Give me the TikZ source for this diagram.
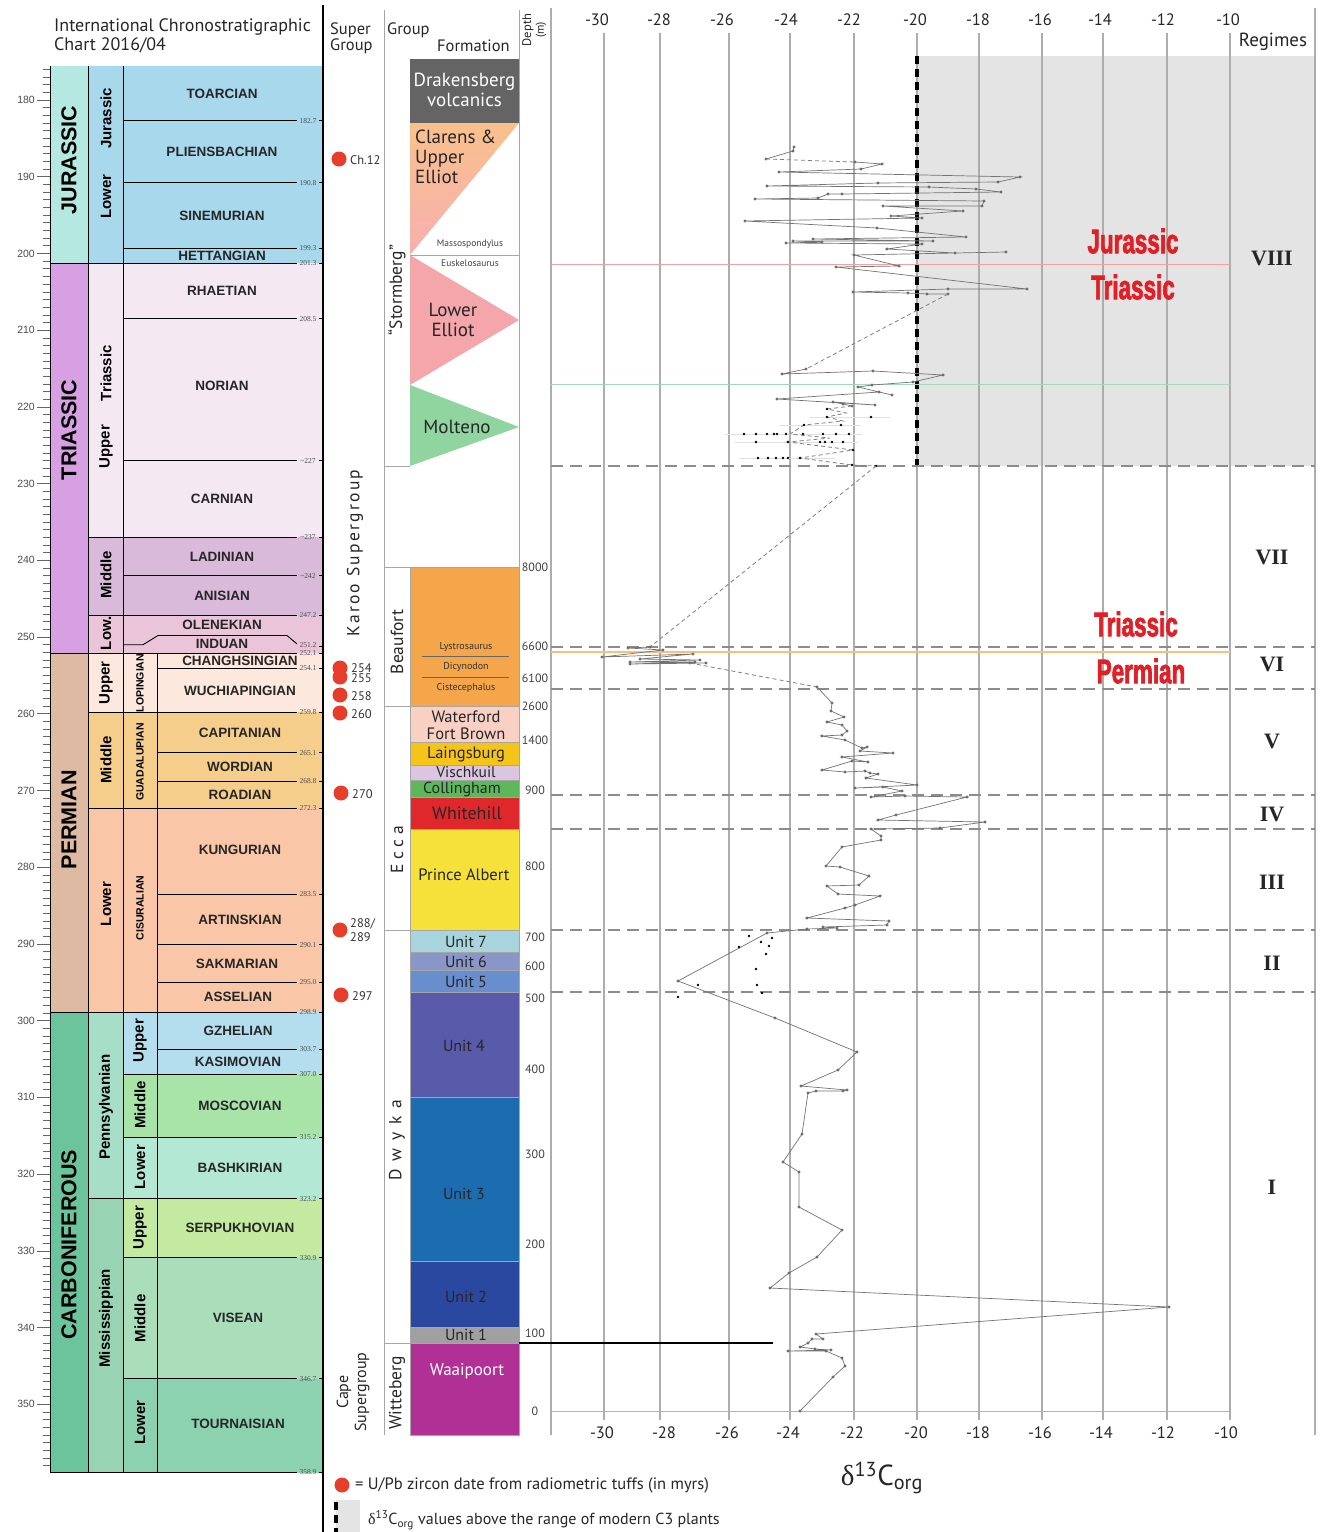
\documentclass[tikz,border=0pt]{standalone}
\usepackage{fontspec}
\setmainfont{PT Sans}
\newfontfamily\arial{Liberation Sans}
\newfontfamily\tnr{Liberation Serif}
\newfontfamily\impactish[BoldFeatures={FakeBold=2.5}]{Liberation Sans}
\usetikzlibrary{calc}
\definecolor{cJurE}{RGB}{180,232,224}
\definecolor{cJur}{RGB}{168,216,236}
\definecolor{cTriE}{RGB}{214,160,226}
\definecolor{cTrU}{RGB}{244,232,243}
\definecolor{cTrM}{RGB}{218,186,218}
\definecolor{cTrL}{RGB}{234,196,216}
\definecolor{cPermE}{RGB}{222,186,162}
\definecolor{cPeU}{RGB}{252,232,220}
\definecolor{cPeM}{RGB}{245,206,140}
\definecolor{cPeL}{RGB}{249,198,168}
\definecolor{cCarbE}{RGB}{108,196,156}
\definecolor{cPenn}{RGB}{166,222,200}
\definecolor{cMiss}{RGB}{152,212,180}
\definecolor{cGz}{RGB}{180,222,238}
\definecolor{cMos}{RGB}{168,228,168}
\definecolor{cBash}{RGB}{178,232,212}
\definecolor{cSerp}{RGB}{196,234,162}
\definecolor{cVis}{RGB}{170,222,186}
\definecolor{cTour}{RGB}{140,210,176}
\definecolor{fDrak}{RGB}{100,100,100}
\definecolor{fClarT}{RGB}{249,192,140}
\definecolor{fClarB}{RGB}{246,176,176}
\definecolor{fLowE}{RGB}{244,166,170}
\definecolor{fMolt}{RGB}{144,212,160}
\definecolor{fBeau}{RGB}{245,166,75}
\definecolor{fWat}{RGB}{249,208,196}
\definecolor{fLai}{RGB}{245,196,25}
\definecolor{fVis}{RGB}{218,198,224}
\definecolor{fCol}{RGB}{92,184,90}
\definecolor{fWhi}{RGB}{224,40,44}
\definecolor{fPri}{RGB}{246,224,58}
\definecolor{fU7}{RGB}{168,212,222}
\definecolor{fU6}{RGB}{136,150,200}
\definecolor{fU5}{RGB}{104,142,208}
\definecolor{fU4}{RGB}{90,90,170}
\definecolor{fU3}{RGB}{28,108,176}
\definecolor{fU2}{RGB}{42,72,160}
\definecolor{fU1}{RGB}{160,160,160}
\definecolor{fWaa}{RGB}{176,48,150}
\definecolor{dotred}{RGB}{230,62,42}
\definecolor{labred}{RGB}{226,30,38}
\definecolor{cShade}{RGB}{228,228,228}
\tikzset{
  bline/.style={draw=black, line width=0.9pt},
  blab/.style={font=\tnr\fontsize{7.5}{8}\selectfont, text=black!70, inner sep=0.5pt},
  tickc/.style={draw=black!60, line width=0.6pt},
  eralab/.style={font=\arial\bfseries\fontsize{21.5}{21.5}\selectfont, rotate=90, inner sep=0},
  serlab/.style={font=\arial\bfseries\fontsize{15}{15}\selectfont, rotate=90, inner sep=0},
  sublab/.style={font=\arial\bfseries\fontsize{10.5}{10.5}\selectfont, rotate=90, inner sep=0},
  stlab/.style={font=\arial\bfseries\fontsize{13.5}{13.5}\selectfont, text=black!85, inner sep=0},
  ftext/.style={font=\fontsize{19}{20}\selectfont, text=black!85, align=center, inner sep=0},
  fbox/.style={draw=black!35, line width=0.5pt},
  glin/.style={draw=black!35, line width=0.8pt},
  gridl/.style={draw=black!32, line width=1.3pt},
  hdash/.style={draw=black!45, line width=1.2pt, dash pattern=on 12pt off 7pt},
  dline/.style={draw=black!55, line width=0.7pt, mark=*, mark size=1.1pt, mark options={draw=none, fill=black}},
  ddash/.style={draw=black!50, line width=0.8pt, dash pattern=on 4pt off 3pt},
  rng/.style={draw=black!12, line width=0.6pt},
  axlab/.style={font=\fontsize{16.5}{16.5}\selectfont, text=black!85, inner sep=0},
  deplab/.style={font=\fontsize{12}{12}\selectfont, text=black!75, inner sep=0},
  grplab/.style={font=\fontsize{17.5}{17.5}\selectfont, text=black!85, rotate=90, inner sep=0},
  tuff/.style={fill=dotred, draw=none},
  tufflab/.style={font=\fontsize{12.5}{12.5}\selectfont, text=black!80, anchor=west, inner sep=0},
  regime/.style={font=\tnr\bfseries\fontsize{22}{22}\selectfont, text=black!85, inner sep=0},
  redlab/.style={font=\impactish\bfseries\fontsize{34}{34}\selectfont, text=labred, inner sep=0},
  hdr/.style={font=\fontsize{16.5}{16.5}\selectfont, text=black!85, inner sep=0}
}
\begin{document}
\begin{tikzpicture}[x=1pt,y=-1pt]
\useasboundingbox (0,0) rectangle (1321,1532);
\fill[white] (0,0) rectangle (1321,1532);

% ---------------- chronostratigraphic chart (y in Ma) ----------------
\begin{scope}[y=-7.672pt, yshift=1280.96pt]
\fill[cJurE] (50,175.6) rectangle (88,201.3);
\fill[cTriE] (50,201.3) rectangle (88,252.1);
\fill[cPermE] (50,252.1) rectangle (88,298.9);
\fill[cCarbE] (50,298.9) rectangle (88,358.9);
\fill[cJur] (88,175.6) rectangle (323,201.3);
\fill[cTrU] (88,201.3) rectangle (323,237);
\fill[cTrM] (88,237) rectangle (323,247.2);
\fill[cTrL] (88,247.2) rectangle (323,252.1);
\fill[cPeU] (88,252.1) rectangle (323,259.8);
\fill[cPeM] (88,259.8) rectangle (323,272.3);
\fill[cPeL] (88,272.3) rectangle (323,298.9);
\fill[cPenn] (88,298.9) rectangle (123,323.2);
\fill[cMiss] (88,323.2) rectangle (123,358.9);
\fill[cGz] (123,298.9) rectangle (323,307);
\fill[cMos] (123,307) rectangle (323,315.2);
\fill[cBash] (123,315.2) rectangle (323,323.2);
\fill[cSerp] (123,323.2) rectangle (323,330.9);
\fill[cVis] (123,330.9) rectangle (323,346.7);
\fill[cTour] (123,346.7) rectangle (323,358.9);
% vertical lines
\draw[bline] (50,175.6) -- (50,358.9);
\draw[bline] (88,175.6) -- (88,358.9);
\draw[bline] (123,175.6) -- (123,358.9);
\draw[bline] (157,252.1) -- (157,358.9);
% boundaries
\foreach \a/\xl/\lab in {182.7/123/182.7, 190.8/123/190.8, 199.3/123/199.3, 201.3/50/201.3,
  208.5/123/208.5, 227/123/\textasciitilde227, 237/88/\textasciitilde237, 242/123/\textasciitilde242,
  247.2/88/247.2, 252.1/50/252.1, 254.1/157/254.1, 259.8/88/259.8, 265.1/157/265.1,
  268.8/157/268.8, 272.3/88/272.3, 283.5/157/283.5, 290.1/157/290.1, 295.0/157/295.0,
  298.9/50/298.9, 303.7/157/303.7, 307.0/123/307.0, 315.2/123/315.2, 323.2/88/323.2,
  330.9/123/330.9, 346.7/123/346.7, 358.9/50/358.9}{
  \draw[bline] (\xl,\a) -- (297,\a);
  \node[blab] at (308,\a) {\lab};
  \draw[bline] (319,\a) -- (323,\a);
}
\draw[bline] (123,251.0) -- (143,251.0) -- (158,249.8) -- (287,249.8) -- (297,250.9);
\node[blab] at (308,251.0) {251.2};
\draw[bline] (319,251.2) -- (323,251.2);
% left age axis
\foreach \a in {176,...,358} \draw[tickc] (43,\a) -- (50,\a);
\foreach \a in {180,190,...,350} {
  \draw[tickc] (37,\a) -- (50,\a);
  \node[font=\arial\fontsize{10.5}{10.5}\selectfont, text=black!70, anchor=east, inner sep=0] (ax\a) at (35,\a) {\a};
}
% era labels
\node[eralab] (eJ) at (69,187.8) {JURASSIC};
\node[eralab] (eT) at (69,223.0) {TRIASSIC};
\node[eralab] (eP) at (69,273.8) {PERMIAN};
\node[eralab] (eC) at (69,329.2) {CARBONIFEROUS};
% series labels
\node[serlab] (sJ1) at (106,182.4) {Jurassic};
\node[serlab] (sJ2) at (106,192.6) {Lower};
\node[serlab] (sT1) at (106,215.6) {Triassic};
\node[serlab] (sT2) at (106,225.2) {Upper};
\node[serlab] (sT3) at (106,241.9) {Middle};
\node[serlab] (sT4) at (106,249.5) {Low.};
\node[serlab] (sP1) at (106,256.0) {Upper};
\node[serlab] (sP2) at (106,266.0) {Middle};
\node[serlab] (sP3) at (106,284.8) {Lower};
\node[serlab] (sC1) at (106,311.3) {Pennsylvanian};
\node[serlab] (sC2) at (106,338.8) {Mississippian};
\node[sublab] (uP1) at (140,256.0) {LOPINGIAN};
\node[sublab] (uP2) at (140,266.3) {GUADALUPIAN};
\node[sublab] (uP3) at (140,285.3) {CISURALIAN};
\node[serlab] (uC1) at (140,302.6) {Upper};
\node[serlab] (uC2) at (140,311.0) {Middle};
\node[serlab] (uC3) at (140,319.1) {Lower};
\node[serlab] (uC4) at (140,327.0) {Upper};
\node[serlab] (uC5) at (140,338.8) {Middle};
\node[serlab] (uC6) at (140,352.4) {Lower};
% stage labels
\node[stlab] (g1) at (222,179.15) {TOARCIAN};
\node[stlab] (g2) at (222,186.75) {PLIENSBACHIAN};
\node[stlab] (g3) at (222,195.05) {SINEMURIAN};
\node[stlab] (g4) at (222,200.35) {HETTANGIAN};
\node[stlab] (g5) at (222,204.9) {RHAETIAN};
\node[stlab] (g6) at (222,217.2) {NORIAN};
\node[stlab] (g7) at (222,232.0) {CARNIAN};
\node[stlab] (g8) at (222,239.5) {LADINIAN};
\node[stlab] (g9) at (222,244.6) {ANISIAN};
\node[stlab] (g10) at (222,248.4) {OLENEKIAN};
\node[stlab] (g11) at (222,250.95) {INDUAN};
\node[stlab] (g12) at (240,253.1) {CHANGHSINGIAN};
\node[stlab] (g13) at (240,256.95) {WUCHIAPINGIAN};
\node[stlab] (g14) at (240,262.45) {CAPITANIAN};
\node[stlab] (g15) at (240,266.95) {WORDIAN};
\node[stlab] (g16) at (240,270.55) {ROADIAN};
\node[stlab] (g17) at (240,277.7) {KUNGURIAN};
\node[stlab] (g18) at (240,286.8) {ARTINSKIAN};
\node[stlab] (g19) at (237,292.55) {SAKMARIAN};
\node[stlab] (g20) at (238,296.95) {ASSELIAN};
\node[stlab] (g21) at (238,301.3) {GZHELIAN};
\node[stlab] (g22) at (238,305.35) {KASIMOVIAN};
\node[stlab] (g23) at (240,311.1) {MOSCOVIAN};
\node[stlab] (g24) at (240,319.2) {BASHKIRIAN};
\node[stlab] (g25) at (240,327.05) {SERPUKHOVIAN};
\node[stlab] (g26) at (238,338.8) {VISEAN};
\node[stlab] (g27) at (238,352.6) {TOURNAISIAN};
\end{scope}

% title
\node[font=\fontsize{18}{18}\selectfont, anchor=west, inner sep=0, text=black!85] (t1) at (54,27) {International Chronostratigraphic};
\node[font=\fontsize{18}{18}\selectfont, anchor=west, inner sep=0, text=black!85] (t2) at (54,45) {Chart 2016/04};

% ---------------- column frame ----------------
\fill[cShade] (917,56) rectangle (1315,466);
\draw[line width=1.2pt] (323,5) -- (323,1532);
\draw[glin] (384,10) -- (384,1435);
\draw[glin] (519,10) -- (519,1435);
\draw[gridl] (551,8) -- (551,1435);
\draw[gridl] (1315,8) -- (1315,1435);
\foreach \gx in {604,660,729,790,854,917,979,1042,1103,1167,1230}
  \draw[gridl] (\gx,33) -- (\gx,1420);

% headers
\node[hdr, anchor=west] (hS1) at (330,30) {Super};
\node[hdr, anchor=west] (hS2) at (330,46) {Group};
\node[hdr, anchor=west] (hG) at (387,30) {Group};
\node[hdr, anchor=west] (hF) at (437,46) {Formation};
\node[font=\fontsize{12.5}{12.5}\selectfont, rotate=90, inner sep=0, text=black!85] (hD1) at (528,30) {Depth};
\node[font=\fontsize{11.5}{11.5}\selectfont, rotate=90, inner sep=0, text=black!85] (hD2) at (541,30) {(m)};
\node[hdr, font=\fontsize{19}{19}\selectfont] (hR) at (1273,42) {Regimes};

% axis labels
\foreach \lx/\lv in {597/-30,659/-28,722/-26,786/-24,849/-22,915/-20,978/-18,1040/-16,1100/-14,1163/-12,1228/-10}
  \node[axlab] at (\lx,20) {\lv};
\foreach \lx/\lv in {602/-30,664/-28,727/-26,788/-24,852/-22,916/-20,978/-18,1040/-16,1101/-14,1163/-12,1226/-10}
  \node[axlab] at (\lx,1433) {\lv};

% ---------------- formations ----------------
\fill[fDrak] (410,59) rectangle (519,123);
\shade[top color=fClarT, bottom color=fClarB] (410,123) -- (519,123) -- (410,255) -- cycle;
\fill[fLowE] (410,255) -- (519,320) -- (410,385) -- cycle;
\fill[fMolt] (410,385) -- (519,427) -- (410,466) -- cycle;
\draw[glin, line width=0.6pt] (410,255) -- (519,255);
\foreach \ya/\yb/\cc in {567/706/fBeau, 706/742/fWat, 742/765/fLai, 765/780/fVis, 780/797/fCol,
  797/829/fWhi, 829/930/fPri, 930/952/fU7, 952/970/fU6, 970/992/fU5, 992/1097/fU4,
  1097/1261/fU3, 1261/1327/fU2, 1327/1343/fU1, 1343/1435/fWaa}
  \filldraw[fbox, fill=\cc] (410,\ya) rectangle (519,\yb);
\draw[black!60, line width=0.6pt] (422,656) -- (509,656);
\draw[black!60, line width=0.6pt] (422,677) -- (509,677);

\node[ftext, text=white] (drak) at (464.5,90) {Drakensberg\\volcanics};
\node[ftext, align=left, anchor=north west] (clar) at (415,130) {Clarens \&\\Upper\\Elliot};
\node[font=\fontsize{9.5}{9.5}\selectfont, text=black!75, inner sep=0] (masso) at (470,244) {Massospondylus};
\node[font=\fontsize{9.5}{9.5}\selectfont, text=black!75, inner sep=0] (euske) at (470,263) {Euskelosaurus};
\node[ftext] (lowe) at (453,320) {Lower\\Elliot};
\node[ftext] (molt) at (457,427) {Molteno};
\node[font=\fontsize{10}{10}\selectfont, text=black!80, inner sep=0] (lys) at (466,647) {Lystrosaurus};
\node[font=\fontsize{10}{10}\selectfont, text=black!80, inner sep=0] (dic) at (466,667) {Dicynodon};
\node[font=\fontsize{10}{10}\selectfont, text=black!80, inner sep=0] (cis) at (466,688) {Cistecephalus};
\node[ftext, font=\fontsize{16.5}{17}\selectfont] (wat) at (466,725) {Waterford\\Fort Brown};
\node[ftext, font=\fontsize{16.5}{16}\selectfont] (lai) at (466,754) {Laingsburg};
\node[ftext, font=\fontsize{15.5}{15}\selectfont] (vis) at (466,772) {Vischkuil};
\node[ftext, font=\fontsize{16}{15}\selectfont] (col) at (462,789) {Collingham};
\node[ftext, font=\fontsize{18}{18}\selectfont] (whi) at (467,813) {Whitehill};
\node[ftext, font=\fontsize{16.5}{16}\selectfont] (pri) at (464,875) {Prince Albert};
\node[ftext, font=\fontsize{16}{15}\selectfont] (u7) at (466,942) {Unit 7};
\node[ftext, font=\fontsize{16}{15}\selectfont] (u6) at (466,962) {Unit 6};
\node[ftext, font=\fontsize{16}{15}\selectfont] (u5) at (466,982) {Unit 5};
\node[ftext, font=\fontsize{16}{15}\selectfont] (u4) at (464,1046) {Unit 4};
\node[ftext, font=\fontsize{16}{15}\selectfont] (u3) at (464,1194) {Unit 3};
\node[ftext, font=\fontsize{16}{15}\selectfont] (u2) at (466,1297) {Unit 2};
\node[ftext, font=\fontsize{16}{15}\selectfont] (u1) at (466,1335) {Unit 1};
\node[ftext, font=\fontsize{17}{16}\selectfont, text=white] (waa) at (467,1371) {Waaipoort};

% group boundaries
\draw[glin] (384,466) -- (410,466);
\draw[glin] (384,567) -- (410,567);
\draw[glin] (384,706) -- (410,706);
\draw[glin] (384,930) -- (410,930);
\draw[glin] (384,1343) -- (410,1343);

% group / supergroup labels
\node[grplab] (gSt) at (397,290) {\char"201CStormberg\char"201D};
\node[grplab] (gBe) at (397,642) {Beaufort};
\node[grplab] (gEc) at (397,850) {E c c a};
\node[grplab, font=\fontsize{17.5}{17.5}\selectfont\addfontfeature{LetterSpace=18}] (gDw) at (397,1140) {D w y k a};
\node[grplab] (gWi) at (397,1393) {Witteberg};
\node[grplab, font=\fontsize{17.5}{17.5}\selectfont\addfontfeature{LetterSpace=13}] (gKa) at (355,553) {Karoo Supergroup};
\node[grplab, font=\fontsize{16}{18}\selectfont, align=center] (gCa) at (353,1392) {Cape\\Supergroup};

% depth labels
\foreach \dy/\dv in {567/8000,646/6600,678/6100,706/2600,740/1400,790/900,866/800,937/700,966/600,998/500,1069/400,1154/300,1244/200,1333/100,1411/0}
  \node[deplab] at (535,\dy) {\dv};

% tuff dates
\fill[tuff] (339,159) circle (7.5); \node[tufflab] (d0) at (350,160) {Ch.12};
\fill[tuff] (340,668) circle (7.5); \node[tufflab] (d1) at (351,668) {254};
\fill[tuff] (340,677) circle (7.5); \node[tufflab] (d2) at (351,678) {255};
\fill[tuff] (340,695) circle (7.5); \node[tufflab] (d3) at (351,696) {258};
\fill[tuff] (340,713) circle (7.5); \node[tufflab] (d4) at (351,714) {260};
\fill[tuff] (341,793) circle (7.5); \node[tufflab] (d5) at (352,794) {270};
\fill[tuff] (340,930) circle (7.5); \node[tufflab] (d6) at (350,924) {288/}; \node[tufflab] (d6b) at (350,937) {289};
\fill[tuff] (341,995) circle (7.5); \node[tufflab] (d7) at (352,996) {297};

% ---------------- plot decorations ----------------
\draw[line width=4pt, dash pattern=on 7.5pt off 5.5pt] (917,56) -- (917,466);
\foreach \hy in {466,647,689,795,829,930,992}
  \draw[hdash] (551,\hy) -- (1315,\hy);
\draw[draw={rgb,255:red,242;green,160;blue,160}, line width=0.8pt] (551,264) -- (1230,264);
\draw[draw={rgb,255:red,160;green,218;blue,188}, line width=0.8pt] (551,384) -- (1230,384);
\draw[draw={rgb,255:red,248;green,192;blue,122}, line width=2pt] (551,652) -- (1230,652);
\draw[black!30, line width=0.7pt] (551,1411) -- (1230,1411);
\draw[line width=2.5pt] (519,1343) -- (773,1343);

% ---------------- data ----------------
\draw[rng] (810,417) -- (890,417);
\draw[rng] (780,425) -- (860,425);
\draw[rng] (725,434) -- (862,434);
\draw[rng] (735,442) -- (858,442);
\draw[rng] (740,458) -- (835,458);
\draw[dline] plot coordinates {(794,147) (793,151) (766,159)};
\draw[ddash] (766,159) -- (855,162);
\draw[dline] plot coordinates {(855,162) (882,164) (861,169) (779,172) (1020,177) (998,182) (878,183)
 (767,186) (929,187) (976,189) (1001,192) (842,194) (828,194) (818,198) (755,199) (984,201) (982,206)
 (883,206) (963,211) (891,216) (922,218) (745,221) (877,228) (966,237) (813,239) (933,241) (793,241)
 (822,242) (786,243) (922,244) (887,249) (955,253) (1006,252) (854,255) (899,266) (836,267) (1027,289)
 (948,289) (853,292) (908,293) (927,294) (948,294)};
\draw[ddash] (948,294) -- (806,369);
\draw[dline] plot coordinates {(806,369) (782,374) (873,371) (943,375) (913,382) (872,385) (858,387)
 (892,395) (879,392) (777,399) (875,405) (833,402) (843,404) (852,406)};
\draw[ddash] (852,406) -- (827,409) -- (846,413) -- (827,417) -- (843,421) -- (804,425) -- (790,434)
 -- (830,438) -- (788,442) -- (853,450) -- (800,458) -- (852,465) -- (876,466);
\foreach \p in {(827,409),(827,417),(871,417),(804,425),(841,425),(744,434),(756,434),(767,434),(774,434),
 (777,434),(786,434),(803,434),(823,434),(836,434),(849,434),(756,442),(788,442),(820,442),(825,442),
 (832,442),(843,442),(853,450),(758,458),(768,458),(776,458),(783,458),(788,458),(800,458),(852,465),(876,466)}
  \fill \p circle (1.3);
\draw[ddash] (876,466) -- (650,647);
\draw[dline] plot coordinates {(650,647) (628,648) (663,650) (602,657) (693,654) (640,659) (700,660)
 (630,662) (695,662) (630,664) (706,663) (690,663)};
\draw[ddash] (690,663) -- (817,687);
\draw[dline] plot coordinates {(817,687) (832,703) (831,711) (844,717) (827,722) (842,725) (847,731)
 (842,735) (822,736) (845,740) (862,748) (867,747) (860,751) (893,753) (842,757) (868,762) (852,761)
 (822,770) (845,772) (865,771) (870,773) (878,774) (866,778) (917,785) (855,788) (883,787) (902,791)
 (871,797) (905,796) (967,797) (896,815) (878,820) (985,822) (940,828) (871,829) (881,836) (881,840)
 (842,847) (826,866) (840,867) (869,876) (859,885) (827,886) (838,894) (880,896) (855,905) (845,908)
 (807,918) (889,921) (887,925) (823,927) (837,928) (807,929) (767,933) (678,981) (775,1018) (857,1052)
 (838,1070) (801,1086) (847,1090) (843,1091) (816,1091) (808,1093) (802,1134) (783,1162) (799,1172)
 (799,1207) (842,1230) (817,1257) (789,1273) (770,1288) (1169,1307) (816,1334) (823,1339) (812,1339)
 (808,1343) (800,1347) (815,1349) (831,1350) (788,1351) (826,1351) (842,1358) (845,1366) (833,1377) (800,1411)};
\foreach \p in {(749,936),(772,938),(761,942),(769,946),(739,947),(766,954),(756,969),(698,985),(757,985),(762,993),(678,997)}
  \fill \p circle (1.4);

% ---------------- labels in plot ----------------
\node[redlab, xscale=0.66] (rJ) at (1133,241) {Jurassic};
\node[redlab, xscale=0.66] (rT) at (1133,287) {Triassic};
\node[redlab, xscale=0.66] (rT2) at (1136,624) {Triassic};
\node[redlab, xscale=0.66] (rP) at (1141,671) {Permian};
\node[regime] (r8) at (1272,258) {VIII};
\node[regime] (r7) at (1272,557) {VII};
\node[regime] (r6) at (1272,664) {VI};
\node[regime] (r5) at (1272,741) {V};
\node[regime] (r4) at (1272,814) {IV};
\node[regime] (r3) at (1272,882) {III};
\node[regime] (r2) at (1272,963) {II};
\node[regime] (r1) at (1272,1187) {I};

% ---------------- legend ----------------
\node[font=\fontsize{29}{29}\selectfont, inner sep=0, text=black!85] (dlab) at (882,1478) {{\tnr δ}\textsuperscript{13}C\textsubscript{org}};
\fill[tuff] (342,1485) circle (7.5);
\node[font=\fontsize{16.5}{16.5}\selectfont, anchor=west, inner sep=0, text=black!85] (leg1) at (355,1485) {= U/Pb zircon date from radiometric tuffs (in myrs)};
\fill[cShade] (336,1500) rectangle (360,1532);
\draw[line width=4pt, dash pattern=on 7.5pt off 5.5pt] (336,1502) -- (336,1532);
\node[font=\fontsize{16}{16}\selectfont, anchor=west, inner sep=0, text=black!85] (leg2) at (368,1520) {{\tnr δ}\textsuperscript{13}C\textsubscript{org} values above the range of modern C3 plants};
\end{tikzpicture}
\end{document}
